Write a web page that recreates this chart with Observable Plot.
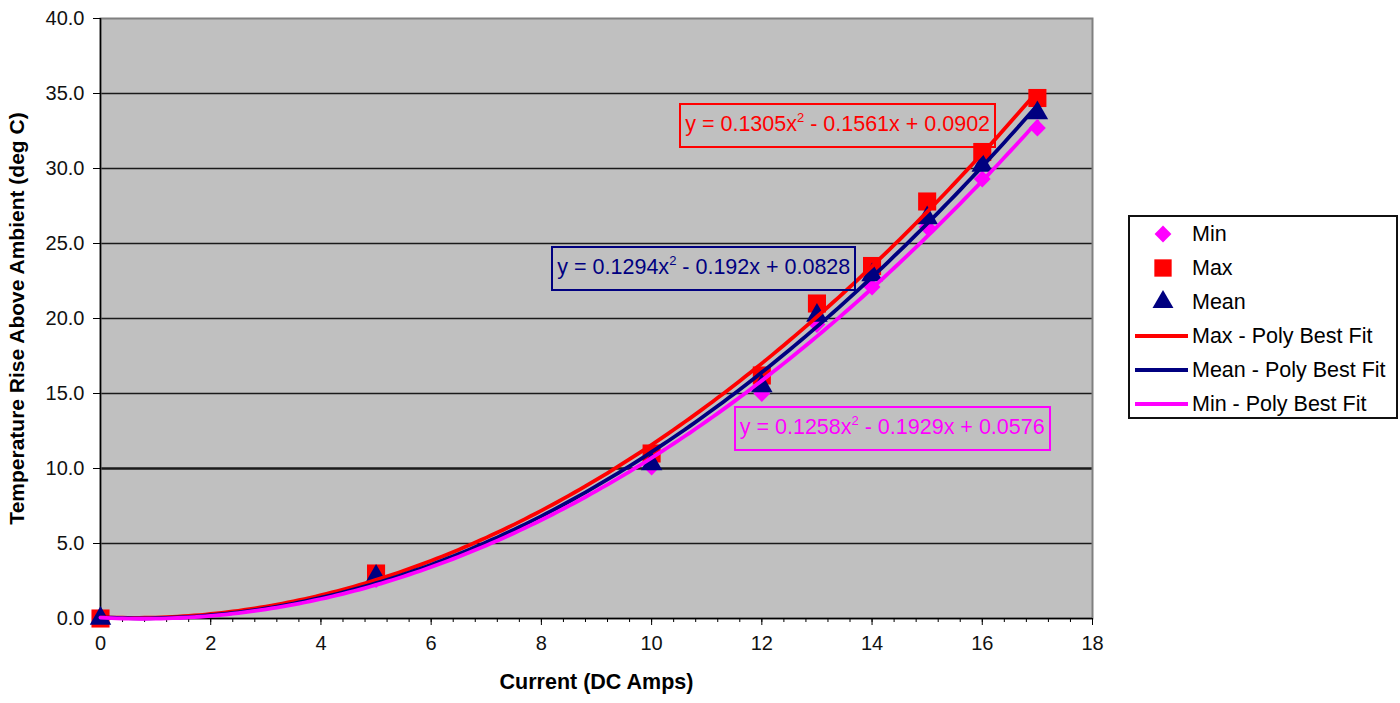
<!DOCTYPE html>
<html><head><meta charset="utf-8">
<script src="https://cdn.jsdelivr.net/npm/d3@7"></script>
<script src="https://cdn.jsdelivr.net/npm/@observablehq/plot@0.6"></script>
<style>
body{margin:0;background:#fff;font-family:"Liberation Sans",Arial,sans-serif;}
#wrap{position:relative;width:1400px;height:703px;overflow:hidden;}
.eq{position:absolute;font-size:21.5px;white-space:nowrap;padding:0 4px;line-height:38px;border:2px solid;}
.eq sup{font-size:13px;position:relative;top:-9px;vertical-align:baseline;}
#legend{position:absolute;left:1128px;top:215px;width:266px;height:200px;border:2px solid #111;background:#fff;}
.row{display:flex;align-items:center;height:34px;font-size:21.5px;color:#000;}
.row svg{flex:none;}
</style></head><body><div id="wrap"></div><script>
// ---- data ----
const currents = [0, 5, 10, 12, 13, 14, 15, 16, 17];
const minTemps = [0, 2.6, 10.1, 15.0, 19.6, 22.1, 26.1, 29.3, 32.7];
const maxTemps = [0, 3.0, 11.0, 16.2, 21.0, 23.5, 27.8, 31.1, 34.7];
const meanTemps = [0, 2.8, 10.3, 15.5, 20.2, 22.9, 26.7, 30.2, 33.7];
const seriesNames = ["Min", "Max", "Mean"];
const fitNames = ["Max - Poly Best Fit", "Mean - Poly Best Fit", "Min - Poly Best Fit"];
const fitCoefs = [[0.1305, -0.1561, 0.0902], [0.1294, -0.192, 0.0828], [0.1258, -0.1929, 0.0576]];
const fitEquations = ["y = 0.1305x<sup>2</sup> - 0.1561x + 0.0902", "y = 0.1294x<sup>2</sup> - 0.192x + 0.0828", "y = 0.1258x<sup>2</sup> - 0.1929x + 0.0576"];
const xTicks = [0, 2, 4, 6, 8, 10, 12, 14, 16, 18];
const yTicks = [0, 5, 10, 15, 20, 25, 30, 35, 40];
const xTitle = "Current (DC Amps)";
const yTitle = "Temperature Rise Above Ambient (deg C)";

// ---- styles ----
const colMin = "#ff00ff", colMax = "#ff0000", colMean = "#000080";
const fitColors = [colMax, colMean, colMin];
const xMinor = d3.range(0, 46).map(i => +(i * 0.4).toFixed(1));

const pts = (ys) => currents.map((x, i) => ({x, y: ys[i]}));
const fitData = fitCoefs.map(([a, b, c]) => d3.range(0, 171).map(i => { const x = i / 10; return {x, y: a * x * x + b * x + c}; }));

const chart = Plot.plot({
  width: 1400, height: 703,
  marginLeft: 100, marginRight: 308, marginTop: 18, marginBottom: 85,
  style: {fontFamily: '"Liberation Sans", Arial, sans-serif', fontSize: "20px", color: "#111", background: "transparent"},
  x: {domain: [0, 18]},
  y: {domain: [0, 40]},
  marks: [
    Plot.frame({fill: "#c0c0c0"}),
    Plot.ruleY(yTicks.filter(d => d > 0 && d < 40), {stroke: "#1a1a1a", strokeWidth: d => d === 10 ? 2.5 : 1.5}),
    Plot.frame({stroke: "#808080", strokeWidth: 2}),
    Plot.ruleX([0], {stroke: "#000", strokeWidth: 1.5}),
    Plot.ruleY([0], {stroke: "#000", strokeWidth: 1.5}),
    Plot.axisX({ticks: xMinor, tickSize: 4, text: null, label: null, stroke: "#000"}),
    Plot.axisX({ticks: xTicks, tickSize: 7, tickPadding: 10, tickFormat: d => String(d), label: null, stroke: "#000", fill: "#111"}),
    Plot.axisY({ticks: yTicks, tickSize: 7, tickPadding: 9, tickFormat: d => d.toFixed(1), label: null, stroke: "#000", fill: "#111"}),
    Plot.dot(pts(minTemps), {x: "x", y: "y", symbol: "diamond2", r: 7.6, fill: colMin, stroke: "none"}),
    Plot.dot(pts(maxTemps), {x: "x", y: "y", symbol: "square", r: 10.2, fill: colMax, stroke: "none"}),
    Plot.dot(pts(meanTemps), {x: "x", y: "y", symbol: "triangle", r: 8, fill: colMean, stroke: "none"}),
    ...fitData.map((d, i) => Plot.line(d, {x: "x", y: "y", stroke: fitColors[i], strokeWidth: 3.8, curve: "linear"})),
    Plot.text([xTitle], {frameAnchor: "bottom", dy: 70, fontWeight: "bold", fontSize: 21.5, fill: "#000"}),
    Plot.text([yTitle], {frameAnchor: "left", textAnchor: "middle", dx: -83, rotate: -90, fontWeight: "bold", fontSize: 21, fill: "#000"})
  ]
});
const wrap = document.getElementById("wrap");
wrap.appendChild(chart);

// equation labels placed via the chart's scales
const sx = chart.scale("x"), sy = chart.scale("y");
const eqAt = [[10.51, 34.33], [8.19, 24.8], [11.5, 14.13]];
fitEquations.forEach((html, i) => {
  const d = document.createElement("div");
  d.className = "eq";
  d.innerHTML = html;
  d.style.color = fitColors[i];
  d.style.borderColor = fitColors[i];
  d.style.left = sx.apply(eqAt[i][0]) + "px";
  d.style.top = sy.apply(eqAt[i][1]) + "px";
  wrap.appendChild(d);
});

// legend
const legend = document.createElement("div");
legend.id = "legend";
const entries = [
  {name: seriesNames[0], symbol: d3.symbolDiamond2, size: 180, color: colMin},
  {name: seriesNames[1], symbol: d3.symbolSquare, size: 300, color: colMax},
  {name: seriesNames[2], symbol: d3.symbolTriangle, size: 190, color: colMean},
  {name: fitNames[0], line: true, color: colMax},
  {name: fitNames[1], line: true, color: colMean},
  {name: fitNames[2], line: true, color: colMin}
];
entries.forEach(e => {
  const row = document.createElement("div");
  row.className = "row";
  const svg = d3.create("svg").attr("width", 62).attr("height", 34);
  if (e.line) {
    svg.append("line").attr("x1", 5).attr("x2", 58).attr("y1", 17).attr("y2", 17).attr("stroke", e.color).attr("stroke-width", 3.8);
  } else {
    svg.append("path").attr("d", d3.symbol(e.symbol, e.size)()).attr("transform", "translate(33,17)").attr("fill", e.color);
  }
  row.appendChild(svg.node());
  const t = document.createElement("span");
  t.textContent = e.name;
  row.appendChild(t);
  legend.appendChild(row);
});
wrap.appendChild(legend);
</script></body></html>
